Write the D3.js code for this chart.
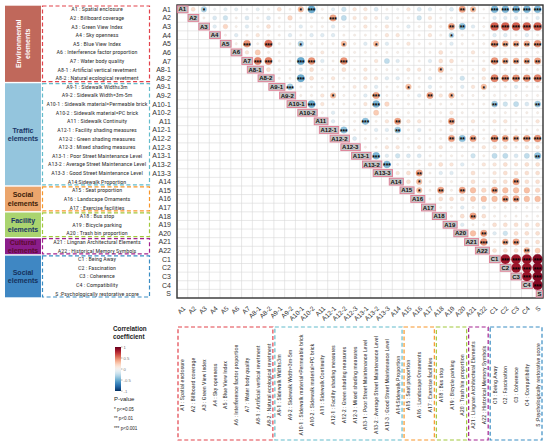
<!DOCTYPE html>
<html>
<head>
<meta charset="utf-8">
<script src="https://cdn.jsdelivr.net/npm/d3@7"></script>
<style>
body { margin: 0; background: #fff; }
svg { display: block; }
</style>
</head>
<body>
<div id="chart"></div>
<script>
// variable codes (rows / columns of the matrix)
var varNames = ["A1", "A2", "A3", "A4", "A5", "A6", "A7", "A8-1", "A8-2", "A9-1", "A9-2", "A10-1", "A10-2",
    "A11", "A12-1", "A12-2", "A12-3", "A13-1", "A13-2", "A13-3", "A14", "A15", "A16", "A17", "A18", "A19",
    "A20", "A21", "A22", "C1", "C2", "C3", "C4", "S"]

var varLabels = ["A1 : Spatial enclosure", "A2 : Billboard coverage", "A3 : Green View Index", "A4 : Sky openness",
    "A5 : Blue View Index", "A6 : Interference factor proportion", "A7 : Water body quality",
    "A8-1 : Artificial vertical revetment", "A8-2 : Natural ecological revetment", "A9-1 : Sidewalk Width≤3m",
    "A9-2 : Sidewalk Width=3m-5m", "A10-1 : Sidewalk material=Permeable brick", "A10-2 : Sidewalk material=PC brick",
    "A11 : Sidewalk Continuity", "A12-1 : Facility shading measures", "A12-2 : Green shading measures",
    "A12-3 : Mixed shading measures", "A13-1 : Poor Street Maintenance Level", "A13-2 : Average Street Maintenance Level",
    "A13-3 : Good Street Maintenance Level", "A14:Sidewalk Proportion", "A15 : Seat proportion",
    "A16 : Landscape Ornaments", "A17 : Exercise facilities", "A18 : Bus stop", "A19 : Bicycle parking",
    "A20 : Trash bin proportion", "A21 : Lingnan Architectural Elements", "A22 : Historical Memory Symbols",
    "C1 : Being Away", "C2 : Fascination", "C3 : Coherence", "C4 : Compatibility", "S :Psychologically restorative score"]

// groups: title lines, first and last variable index
var groupTitles = [["Environmental", "elements"], ["Traffic", "elements"], ["Social", "elements"],
    ["Facility", "elements"], ["Cultural", "elements"], ["Social", "elements"]]
var groupFrom = [0, 9, 21, 24, 27, 29]
var groupTo = [8, 20, 23, 26, 28, 33]

// upper triangle correlations, row i holds columns i+1 .. 33
var corrUpper = [
    [0.15, -0.3, -0.05, -0.1, -0.1, -0.05, -0.1, 0.05, 0.15, 0.05, 0.3, -0.5, 0.05, -0.1, -0.2, 0.12, 0.12, -0.15, 0.05, -0.05, 0.12, -0.15, -0.12, 0.05, -0.15, 0.4, 0.3, 0.03, -0.45, -0.45, -0.45, -0.45, -0.45],
    [0.05, -0.15, -0.2, 0.05, -0.15, 0.05, -0.15, 0.05, 0.2, 0.05, 0.05, 0.05, 0.4, -0.25, 0.12, 0.12, 0.1, -0.12, 0.05, 0.05, -0.2, 0.12, 0.05, 0.05, 0.05, 0.05, 0.03, -0.12, -0.12, -0.12, -0.05, -0.12],
    [-0.12, 0.2, 0.05, -0.12, 0.05, 0.15, 0.05, 0.05, -0.12, 0.05, 0.05, -0.12, 0.05, 0.05, 0.12, 0.05, 0.12, 0.05, -0.12, 0.05, 0.12, 0.05, 0.4, -0.4, -0.12, 0.05, 0.6, 0.6, 0.6, 0.6, 0.6],
    [0.05, -0.12, 0.05, 0.12, 0.05, 0.05, -0.12, 0.05, -0.12, -0.12, -0.12, 0.05, 0.05, 0.05, 0.05, 0.12, 0.12, 0.05, 0.05, 0.12, 0.05, -0.25, 0.05, 0.05, 0.05, -0.12, -0.12, 0.05, -0.12, 0.05],
    [0.05, 0.45, 0.05, 0.55, 0.05, 0.05, -0.3, 0.05, 0.05, 0.05, 0.3, 0.05, -0.12, 0.3, -0.12, 0.05, 0.12, 0.05, 0.05, 0.05, -0.12, 0.05, 0.05, 0.05, 0.45, 0.35, 0.35, 0.35, 0.45],
    [0.12, 0.25, 0.05, 0.05, 0.05, 0.05, 0.05, 0.1, 0.05, 0.05, 0.05, 0.05, 0.05, 0.05, 0.05, 0.05, 0.05, 0.05, 0.15, 0.05, 0.05, 0.12, 0.05, 0.05, 0.05, 0.05, 0.05, 0.05],
    [0.5, 0.5, 0.05, 0.05, -0.5, 0.45, -0.12, 0.05, 0.45, 0.05, 0.05, 0.12, -0.25, -0.12, 0.05, 0.05, -0.12, 0.15, 0.15, 0.05, 0.05, 0.05, 0.45, 0.35, 0.35, 0.35, 0.4],
    [0.15, 0.05, 0.05, -0.12, 0.15, 0.05, 0.05, 0.15, 0.05, 0.12, 0.05, 0.05, 0.05, 0.12, 0.12, 0.05, 0.3, 0.05, 0.05, 0.05, 0.12, 0.05, 0.05, 0.05, 0.05, 0.05],
    [0.05, 0.05, -0.5, 0.15, 0.05, 0.12, 0.05, 0.05, 0.12, 0.12, -0.12, -0.12, 0.05, 0.05, -0.12, 0.05, 0.05, -0.2, 0.05, 0.12, 0.5, 0.45, 0.45, 0.45, 0.5],
    [-0.35, 0.05, 0.05, 0.05, 0.05, 0.05, 0.1, 0.12, -0.12, 0.05, 0.05, 0.3, 0.05, -0.12, 0.05, 0.05, -0.12, 0.12, 0.3, 0.05, 0.05, -0.12, 0.05, 0.05],
    [0.05, 0.05, 0.12, 0.3, 0.05, 0.05, -0.12, 0.4, 0.05, 0.05, 0.05, -0.12, 0.4, 0.12, 0.3, 0.05, 0.05, 0.05, 0.05, 0.05, 0.05, 0.05, 0.05],
    [-0.5, 0.12, 0.05, 0.05, 0.05, 0.12, -0.45, 0.2, 0.05, 0.05, 0.05, 0.05, 0.05, 0.05, 0.05, 0.05, 0.05, -0.35, -0.2, -0.25, -0.15, -0.35],
    [0.05, -0.12, 0.05, 0.05, 0.05, 0.25, 0.05, 0.05, 0.05, 0.05, 0.05, 0.05, 0.12, 0.05, 0.05, 0.05, 0.05, 0.05, 0.05, 0.05, 0.05],
    [-0.12, 0.05, 0.05, -0.4, 0.05, 0.12, 0.4, 0.12, 0.12, 0.05, 0.05, 0.4, 0.05, 0.12, 0.05, 0.12, 0.12, 0.05, 0.05, 0.12],
    [-0.4, 0.05, 0.05, -0.12, -0.12, -0.35, 0.05, -0.12, 0.05, 0.05, 0.12, 0.05, 0.05, 0.05, 0.05, 0.05, 0.05, 0.05, 0.05],
    [-0.15, 0.05, 0.05, 0.05, 0.05, 0.05, 0.05, 0.05, 0.05, 0.4, -0.4, 0.4, 0.05, 0.45, 0.4, 0.35, 0.4, 0.45],
    [0.05, 0.05, 0.12, 0.12, 0.05, 0.12, 0.05, 0.12, 0.05, 0.05, 0.05, 0.12, 0.12, 0.12, 0.05, 0.12, 0.12],
    [-0.45, -0.12, -0.2, -0.15, -0.15, 0.05, 0.05, 0.05, 0.05, -0.2, 0.05, -0.25, -0.25, -0.15, -0.25, -0.4],
    [-0.45, 0.05, 0.05, 0.05, 0.12, 0.15, 0.12, -0.12, 0.05, 0.12, 0.12, 0.15, 0.12, 0.15, 0.15],
    [0.12, 0.15, 0.4, 0.05, -0.12, -0.12, 0.05, 0.15, 0.05, 0.12, 0.15, 0.15, 0.15, 0.15],
    [0.15, 0.3, 0.05, 0.05, 0.05, 0.05, 0.15, 0.05, 0.15, 0.15, 0.4, 0.15, 0.15],
    [0.3, 0.05, 0.4, 0.05, 0.4, 0.3, 0.2, 0.4, 0.3, 0.3, 0.3, 0.2],
    [0.05, 0.15, 0.15, 0.15, 0.25, 0.3, 0.3, 0.4, 0.4, 0.3, 0.3],
    [0.05, 0.05, -0.12, 0.05, -0.12, 0.05, 0.05, 0.05, 0.05, 0.05],
    [0.05, 0.15, 0.4, 0.15, 0.05, 0.05, 0.05, 0.05, 0.05],
    [-0.12, 0.05, 0.05, 0.15, 0.15, 0.15, 0.15, 0.15],
    [0.3, 0.4, -0.12, -0.2, 0.15, 0.15, 0.15],
    [0.45, 0.05, 0.35, 0.4, 0.15, 0.15],
    [0.15, 0.15, 0.15, 0.35, 0.25],
    [0.85, 0.85, 0.85, 0.92],
    [0.85, 0.85, 0.92],
    [0.85, 0.92],
    [0.92],
    []
]

// significance marks: [row, column, number of stars]
var starCells = [
    [0, 2, 1], [0, 11, 1], [0, 12, 3], [0, 26, 2], [0, 27, 1], [0, 29, 3], [0, 30, 3], [0, 31, 3], [0, 32, 3], [0, 33, 3],
    [1, 14, 3],
    [2, 25, 2], [2, 26, 2], [2, 29, 3], [2, 30, 3], [2, 31, 3], [2, 32, 3], [2, 33, 3],
    [3, 25, 1],
    [4, 6, 3], [4, 8, 3], [4, 11, 1], [4, 15, 1], [4, 18, 1], [4, 29, 3], [4, 30, 2], [4, 31, 2], [4, 32, 2], [4, 33, 3],
    [6, 7, 3], [6, 8, 3], [6, 11, 3], [6, 12, 3], [6, 15, 3], [6, 29, 3], [6, 30, 2], [6, 31, 2], [6, 32, 2], [6, 33, 2],
    [7, 24, 1],
    [8, 11, 3], [8, 29, 3], [8, 30, 3], [8, 31, 3], [8, 32, 3], [8, 33, 3],
    [9, 10, 3], [9, 21, 1], [9, 28, 1],
    [10, 14, 1], [10, 18, 3], [10, 23, 2], [10, 25, 1],
    [11, 12, 3], [11, 18, 3], [11, 29, 2], [11, 33, 2],
    [13, 17, 3], [13, 20, 2], [13, 25, 2],
    [14, 15, 3], [14, 20, 2],
    [15, 25, 2], [15, 26, 2], [15, 27, 2], [15, 29, 3], [15, 30, 2], [15, 31, 2], [15, 32, 3], [15, 33, 3],
    [17, 18, 3], [17, 33, 2],
    [18, 19, 3],
    [19, 22, 2],
    [20, 22, 1], [20, 31, 2],
    [21, 22, 1], [21, 24, 2], [21, 26, 2], [21, 29, 2],
    [22, 30, 2], [22, 31, 2],
    [24, 27, 2],
    [26, 28, 2],
    [27, 28, 3], [27, 30, 2], [27, 31, 2],
    [28, 32, 2],
    [29, 30, 3], [29, 31, 3], [29, 32, 3], [29, 33, 3], [30, 31, 3], [30, 32, 3], [30, 33, 3], [31, 32, 3], [31, 33, 3], [32, 33, 3]
]

var legendTicks = [1, 0.5, 0, -0.5, -1]
var legendTitle = ["Correlation", "coefficient"]
var pTitle = "P-value"
var pLabels = ["* p<=0.05", "** p<0.01", "*** p<0.001"]

// styles
var blockFill = ["#c0685b", "#94c5dd", "#eba56c", "#aad46f", "#8b1d8b", "#3f87c3"]
var blockText = ["#ffffff", "#1a3566", "#3d2008", "#1a3566", "#5e0a30", "#15325e"]
var dashColor = ["#e2424b", "#63bccb", "#f7962a", "#a2c83c", "#a3238f", "#3a8dc3"]
var narrow = "'Liberation Sans Narrow', 'Arial Narrow', 'Roboto Condensed', sans-serif"

width = 550
height = 445
var svg = d3.select("#chart").append("svg")
    .attr("width", width).attr("height", height)
    .style("font-family", "'Liberation Sans', Arial, sans-serif")

var mLeft = 177, mRight = 543, mTop = 5, mBottom = 298
var x = d3.scaleBand().domain(varNames).range([mLeft, mRight])
var y = d3.scaleBand().domain(varNames).range([mTop, mBottom])
var bw = x.bandwidth(), bh = y.bandwidth()
var color = function (r) { return d3.interpolateRdBu((1 - r) / 2) }
var rad = d3.scaleSqrt().domain([0, 1]).range([0, 5.2])

// ---- grid
var grid = svg.append("g").attr("stroke", "#d9d9d9").attr("stroke-width", 0.6)
varNames.forEach(function (v) {
    grid.append("line").attr("x1", x(v)).attr("x2", x(v)).attr("y1", mTop).attr("y2", mBottom)
    grid.append("line").attr("y1", y(v)).attr("y2", y(v)).attr("x1", mLeft).attr("x2", mRight)
})

// ---- circles
var cells = []
corrUpper.forEach(function (row, i) {
    row.forEach(function (r, k) {
        cells.push({ i: i, j: i + 1 + k, r: r })
    })
})
svg.append("g").selectAll("circle")
    .data(cells)
    .enter()
    .append("circle")
    .attr("cx", function (d) { return x(varNames[d.j]) + bw / 2 })
    .attr("cy", function (d) { return y(varNames[d.i]) + bh / 2 })
    .attr("r", function (d) { return rad(Math.abs(d.r)) })
    .attr("fill", function (d) { return color(d.r) })
    .attr("stroke", function (d) { return d3.color(color(d.r)).darker(0.3) })
    .attr("stroke-width", 0.3)

svg.append("g").selectAll("text")
    .data(starCells)
    .enter()
    .append("text")
    .attr("x", function (d) { return x(varNames[d[1]]) + bw / 2 })
    .attr("y", function (d) { return y(varNames[d[0]]) + bh / 2 + 3.8 })
    .attr("text-anchor", "middle")
    .style("font-size", "6.5px")
    .style("font-weight", "bold")
    .attr("fill", "#000")
    .text(function (d) { return "*".repeat(d[2]) })

// ---- frame
svg.append("rect")
    .attr("x", mLeft).attr("y", mTop).attr("width", mRight - mLeft).attr("height", mBottom - mTop)
    .attr("fill", "none").attr("stroke", "#333").attr("stroke-width", 1.4)

// ---- diagonal labels
var diag = svg.append("g")
varNames.forEach(function (v) {
    var g = diag.append("g")
    var t = g.append("text")
        .attr("x", x(v) + bw - 1.6)
        .attr("y", y(v) + bh / 2 + 2.1)
        .attr("text-anchor", "end")
        .style("font-size", "6px")
        .style("font-weight", "bold")
        .attr("fill", "#111")
        .text(v)
    var bb = t.node().getBBox()
    g.insert("rect", "text")
        .attr("x", bb.x - 1.2).attr("y", y(v) + 0.9)
        .attr("width", bb.width + 2.4).attr("height", bh - 1.8)
        .attr("fill", "#c4c4c4").attr("stroke", "#e07b93").attr("stroke-width", 0.9)
})

// ---- row labels (left of matrix)
svg.append("g").selectAll("text")
    .data(varNames)
    .enter()
    .append("text")
    .attr("x", 171)
    .attr("y", function (d) { return y(d) + bh / 2 + 2.5 })
    .attr("text-anchor", "end")
    .style("font-size", "7px")
    .attr("fill", "#333")
    .text(function (d) { return d })

// ---- column labels (below matrix)
svg.append("g").selectAll("text")
    .data(varNames)
    .enter()
    .append("text")
    .attr("text-anchor", "end")
    .attr("transform", function (d) {
        return "translate(" + (x(d) + bw / 2 + 3.5) + "," + 309 + ") rotate(-45)"
    })
    .style("font-size", "6.5px")
    .attr("fill", "#333")
    .text(function (d) { return d })

// ---- left panel: coloured blocks, dashed boxes, descriptions
var left = svg.append("g")
groupTitles.forEach(function (title, gi) {
    var y0 = y(varNames[groupFrom[gi]]) + 0.7
    var y1 = y(varNames[groupTo[gi]]) + bh - 0.7
    left.append("rect")
        .attr("x", 5).attr("y", y0).attr("width", 36).attr("height", y1 - y0)
        .attr("fill", blockFill[gi])
    left.append("rect")
        .attr("x", 42.5).attr("y", y0 + 0.3).attr("width", 107).attr("height", y1 - y0 - 0.6)
        .attr("fill", "none").attr("stroke", dashColor[gi])
        .attr("stroke-width", 1.2).attr("stroke-dasharray", "4,2.5")
    var cy = (y0 + y1) / 2
    var t = left.append("text")
        .attr("text-anchor", "middle")
        .style("font-size", "7px")
        .style("font-weight", "bold")
        .attr("fill", blockText[gi])
    if (gi == 0) {
        t.attr("transform", "translate(23," + cy + ") rotate(-90)")
        title.forEach(function (line, li) {
            t.append("tspan").attr("x", 0).attr("y", li == 0 ? -2 : 7).text(line)
        })
    }
    else {
        title.forEach(function (line, li) {
            t.append("tspan").attr("x", 23).attr("y", cy + (li == 0 ? -1.5 : 7)).text(line)
        })
    }
})
left.selectAll("text.desc")
    .data(varLabels)
    .enter()
    .append("text")
    .attr("class", "desc")
    .attr("x", 97)
    .attr("y", function (d, i) { return y(varNames[i]) + bh / 2 + 2 })
    .attr("text-anchor", "middle")
    .style("font-family", narrow)
    .style("font-size", "6px")
    .attr("fill", "#333")
    .text(function (d) { return d })

// ---- bottom panel: dashed boxes and rotated descriptions
var bottom = svg.append("g")
groupTitles.forEach(function (title, gi) {
    var x0 = x(varNames[groupFrom[gi]]) + 1
    var x1 = x(varNames[groupTo[gi]]) + bw - 1
    bottom.append("rect")
        .attr("x", x0).attr("y", 327).attr("width", x1 - x0).attr("height", 113)
        .attr("fill", "none").attr("stroke", dashColor[gi])
        .attr("stroke-width", 1.2).attr("stroke-dasharray", "4,2.5")
})
bottom.selectAll("text")
    .data(varLabels)
    .enter()
    .append("text")
    .attr("text-anchor", "middle")
    .attr("transform", function (d, i) {
        return "translate(" + (x(varNames[i]) + bw / 2 + 2) + ",385) rotate(-90)"
    })
    .style("font-family", narrow)
    .style("font-size", "6px")
    .attr("fill", "#333")
    .text(function (d) { return d })

// ---- colour legend
var lg = svg.append("g")
lg.selectAll("text.title")
    .data(legendTitle)
    .enter()
    .append("text")
    .attr("x", 113)
    .attr("y", function (d, i) { return 331 + i * 8 })
    .style("font-size", "6.3px")
    .style("font-weight", "bold")
    .attr("fill", "#222")
    .text(function (d) { return d })

var defs = svg.append("defs")
var grad = defs.append("linearGradient").attr("id", "corrGrad")
    .attr("x1", 0).attr("y1", 0).attr("x2", 0).attr("y2", 1)
d3.range(0, 1.0001, 0.05).forEach(function (t) {
    grad.append("stop").attr("offset", t).attr("stop-color", color(1 - 2 * t))
})
var ly = d3.scaleLinear().domain([1, -1]).range([347, 391])
lg.append("rect")
    .attr("x", 115).attr("y", ly(1)).attr("width", 6).attr("height", ly(-1) - ly(1))
    .attr("fill", "url(#corrGrad)")
lg.selectAll("line")
    .data(legendTicks)
    .enter()
    .append("line")
    .attr("x1", 121).attr("x2", 122.5)
    .attr("y1", function (d) { return ly(d) }).attr("y2", function (d) { return ly(d) })
    .attr("stroke", "#666").attr("stroke-width", 0.5)
lg.selectAll("text.tick")
    .data(legendTicks)
    .enter()
    .append("text")
    .attr("class", "tick")
    .attr("x", 123.5)
    .attr("y", function (d) { return ly(d) + 1.5 })
    .style("font-size", "4.2px")
    .attr("fill", "#777")
    .text(function (d) { return d })

lg.append("text")
    .attr("x", 114).attr("y", 401)
    .style("font-size", "6px")
    .attr("fill", "#222")
    .text(pTitle)
lg.selectAll("text.p")
    .data(pLabels)
    .enter()
    .append("text")
    .attr("class", "p")
    .attr("x", 114)
    .attr("y", function (d, i) { return 410.5 + i * 9.5 })
    .style("font-size", "4.6px")
    .attr("fill", "#222")
    .text(function (d) { return d })
</script>
</body>
</html>
